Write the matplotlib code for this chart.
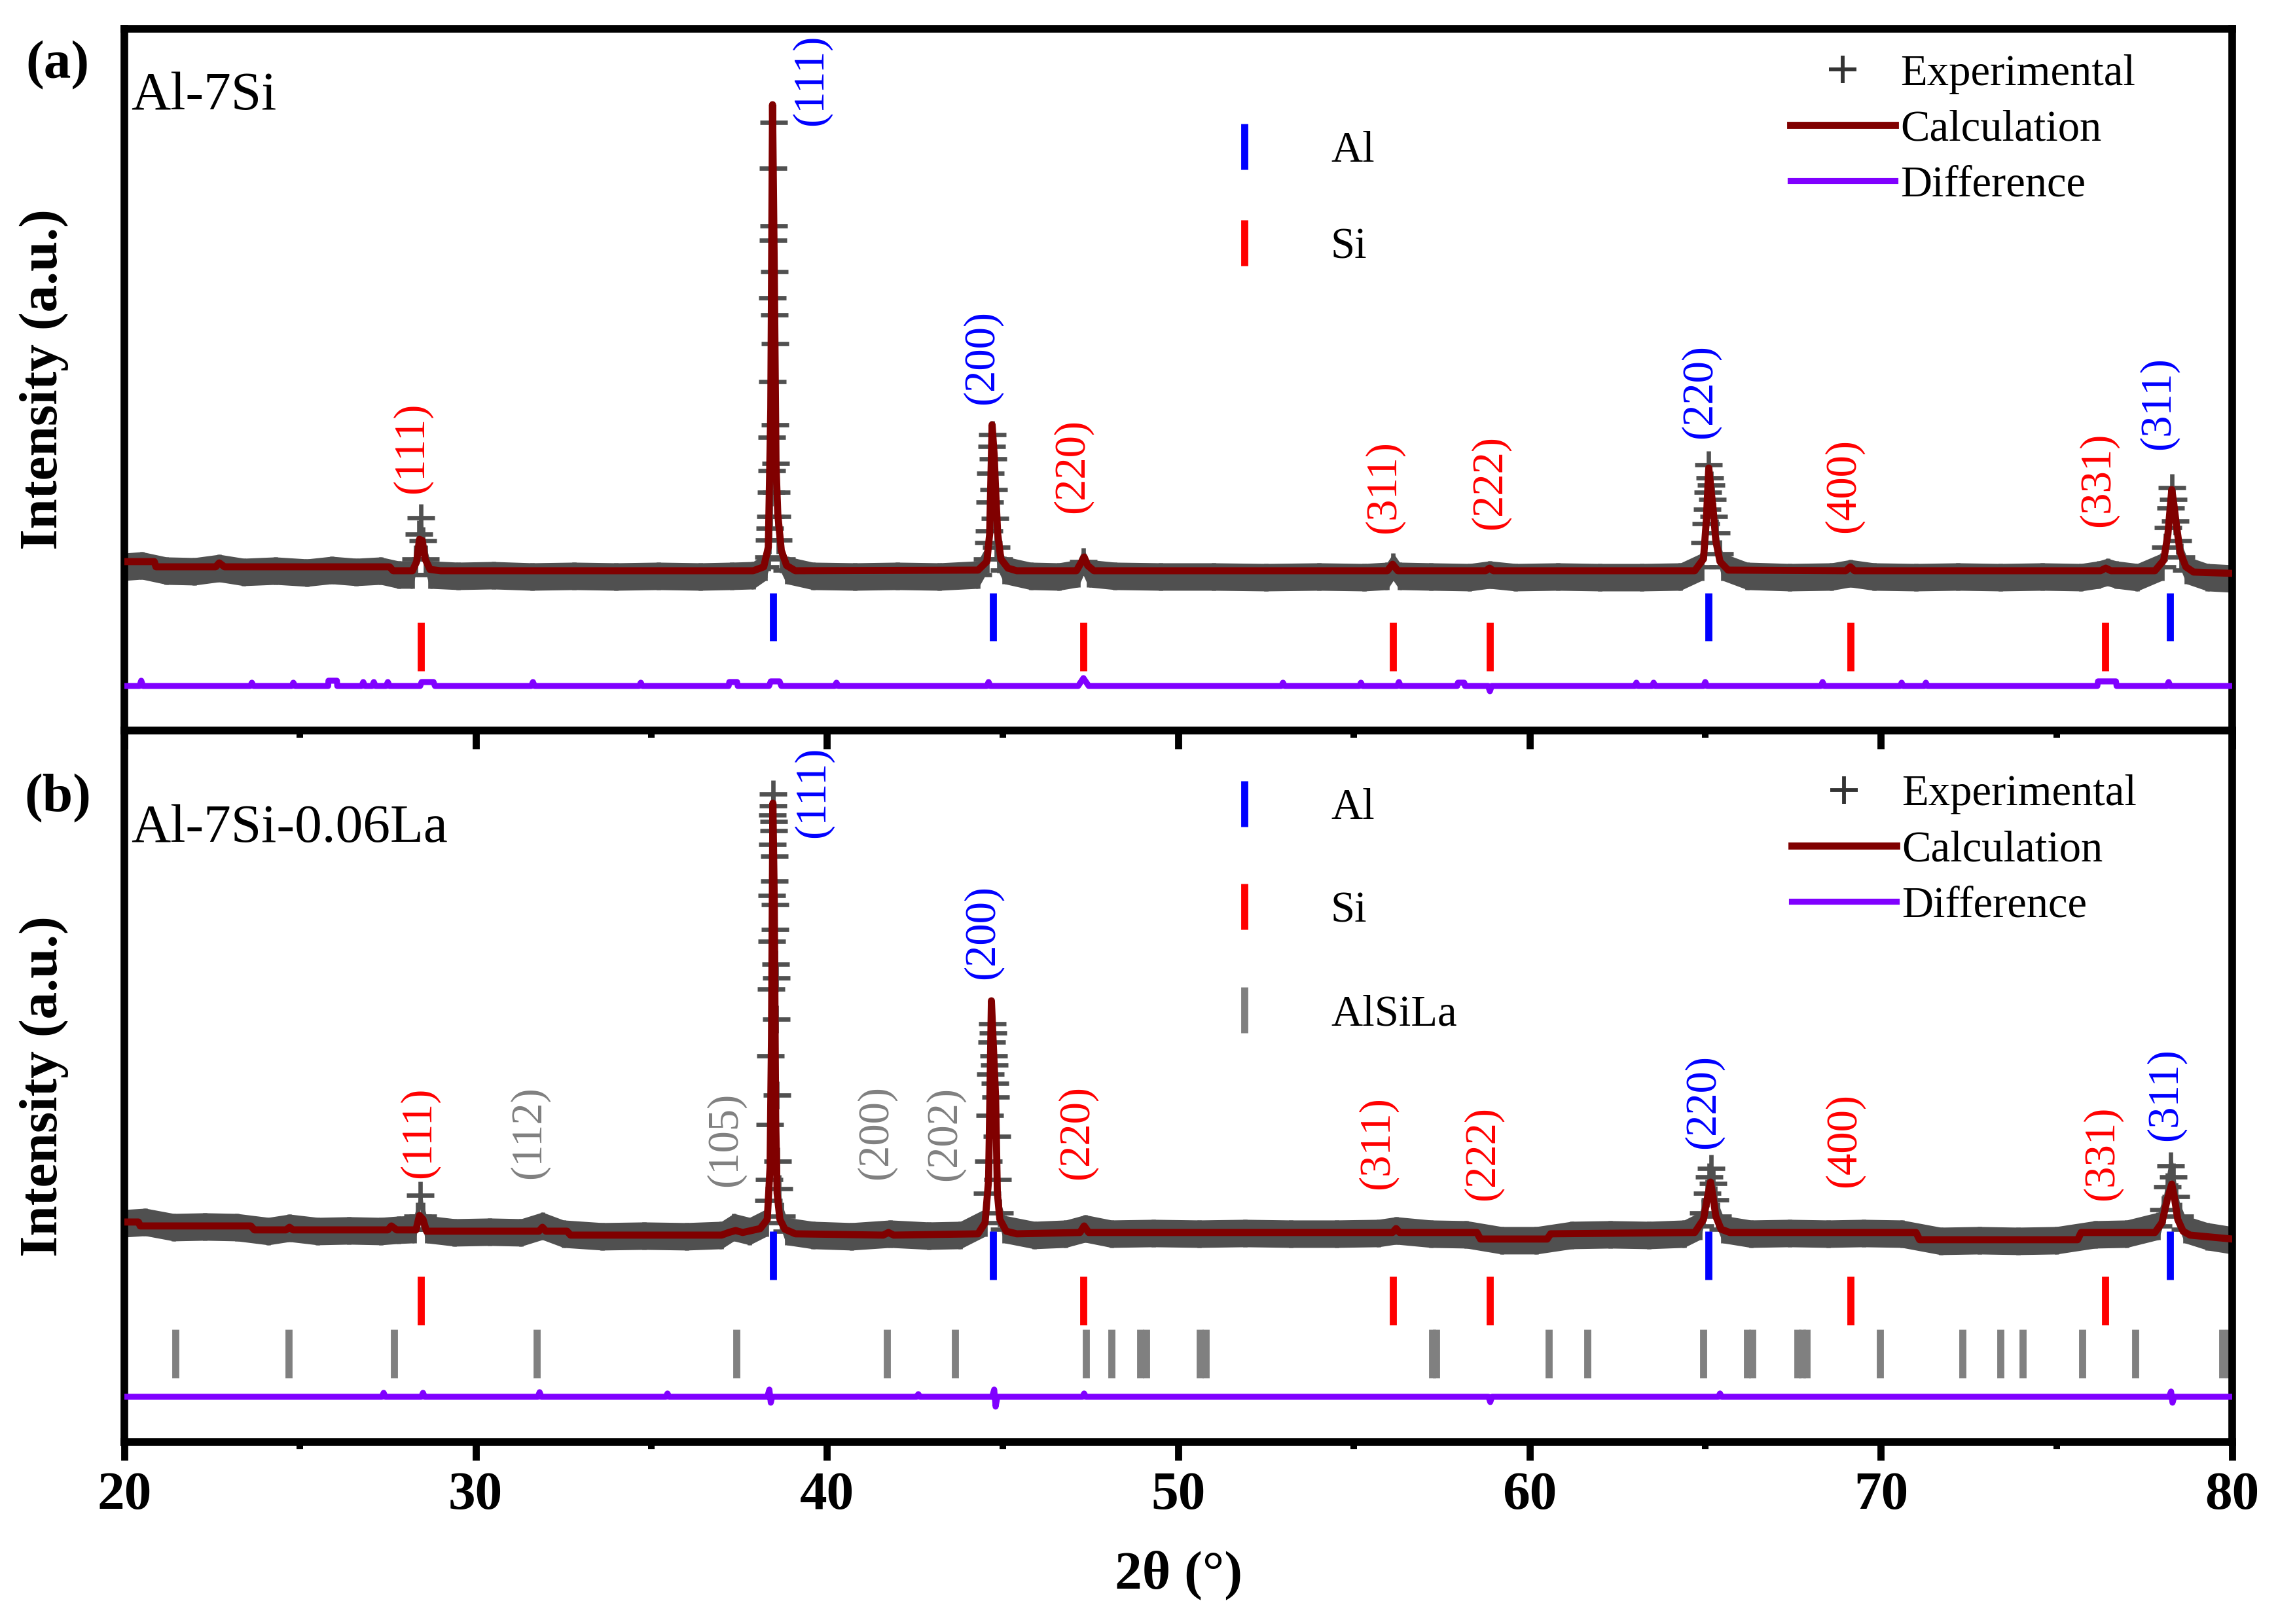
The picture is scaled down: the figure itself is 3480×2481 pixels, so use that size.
import numpy as np
import matplotlib.pyplot as plt
from matplotlib.lines import Line2D
from matplotlib.ticker import MultipleLocator

plt.rcParams['font.family'] = ['Liberation Serif', 'DejaVu Serif']

# reflection positions, 2theta (deg)
al_pos = [38.47, 44.72, 65.10, 78.23]
si_pos = [28.44, 47.30, 56.12, 58.86, 69.13, 76.38]
alsila_pos = [21.46, 24.67, 27.67, 31.73, 37.42, 41.70, 43.64, 47.38, 48.10,
              48.92, 49.08, 50.62, 50.78, 57.22, 57.34, 60.54, 61.64, 64.95,
              66.20, 66.34, 67.62, 67.76, 67.88, 69.97, 72.32, 73.41, 74.04,
              75.74, 77.25, 79.72, 79.90]

# ---- panel (a) Al-7Si, intensity in a.u. ----
calc_a_x = [20.0, 20.85, 20.9, 22.6, 22.7, 22.85, 27.55, 27.65, 28.2, 28.32, 28.4, 28.48,
            28.56, 28.7, 29.0, 37.9, 38.2, 38.33, 38.40, 38.45, 38.50, 38.55, 38.60,
            38.70, 38.85, 39.1, 44.3, 44.55, 44.63, 44.70, 44.76, 44.80, 44.86, 44.95,
            45.15, 45.4, 47.1, 47.25, 47.32, 47.42, 47.6, 55.95, 56.1, 56.25, 58.75,
            58.86, 58.97, 64.7, 64.95, 65.03, 65.10, 65.16, 65.22, 65.30, 65.42, 65.65,
            69.0, 69.13, 69.25, 76.25, 76.4, 76.55, 77.8, 78.05, 78.17, 78.28, 78.34,
            78.42, 78.52, 78.68, 78.9, 80.0]
calc_a_y = [258, 258, 250, 250, 256, 250, 250, 244, 244, 258, 292, 290,
            262, 246, 244, 244, 250, 280, 491, 956, 703, 404, 330,
            275, 252, 244, 245, 258, 300, 467, 420, 368, 300, 262,
            248, 244, 244, 258, 265, 252, 244, 244, 254, 244, 244,
            248, 244, 244, 262, 320, 401, 370, 340, 290, 258, 245,
            244, 250, 244, 244, 248, 244, 244, 260, 300, 368, 345,
            310, 272, 250, 242, 240]

exp_a_x = [20.0, 20.5, 21.2, 22.0, 22.7, 23.4, 24.3, 25.2, 25.9, 26.6, 27.3, 27.8, 28.2,
           28.3, 28.38, 28.44, 28.5, 28.58, 28.7, 29.5, 30.5, 31.6, 32.8, 34.0, 35.2,
           36.4, 37.3, 37.9, 38.25, 38.33, 38.36, 38.38, 38.40, 38.41, 38.42, 38.43,
           38.44, 38.45, 38.46, 38.47, 38.48, 38.49, 38.50, 38.51, 38.52, 38.53, 38.54,
           38.56, 38.58, 38.62, 38.70, 38.85, 39.6, 40.8, 42.0, 43.2, 44.3, 44.55,
           44.60, 44.62, 44.64, 44.66, 44.68, 44.70, 44.72, 44.75, 44.78, 44.82, 44.90,
           45.05, 45.8, 46.6, 47.15, 47.3, 47.45, 48.2, 49.5, 51.0, 52.5, 54.0, 55.3,
           55.95, 56.12, 56.3, 57.2, 58.3, 58.86, 59.6, 60.8, 62.0, 63.2, 64.3, 64.9,
           64.98, 65.02, 65.05, 65.08, 65.10, 65.13, 65.16, 65.20, 65.25, 65.32, 65.40,
           65.50, 66.2, 67.4, 68.6, 69.13, 69.8, 71.0, 72.2, 73.4, 74.6, 75.7, 76.2,
           76.45, 76.7, 77.3, 78.0, 78.10, 78.18, 78.24, 78.28, 78.32, 78.38, 78.45,
           78.55, 78.70, 79.3, 80.0]
exp_a_y = [250, 252, 244, 243, 248, 242, 244, 241, 245, 242, 244, 238, 238,
           262, 300, 325, 290, 262, 238, 236, 237, 235, 236, 235, 236,
           235, 236, 237, 250, 265, 291, 309, 327, 364, 397, 448,
           533, 661, 749, 859, 929, 771, 701, 635, 591, 467, 408,
           364, 327, 291, 262, 245, 236, 235, 236, 235, 238, 262,
           287, 305, 349, 393, 434, 452, 415, 368, 324, 280, 262,
           245, 236, 235, 240, 258, 240, 236, 235, 235, 234, 235, 234,
           236, 250, 236, 235, 234, 238, 234, 235, 234, 234, 235, 250,
           287, 316, 338, 364, 406, 386, 375, 353, 327, 302, 270,
           250, 236, 234, 235, 240, 235, 234, 235, 234, 235, 234, 238,
           242, 238, 234, 250, 280, 310, 340, 371, 353, 320, 290,
           265, 245, 234, 232]

diff_a_x = [20.0, 20.43, 20.48, 20.53, 23.58, 23.63, 23.68, 24.76, 24.81, 24.86, 25.8,
            25.81, 26.05, 26.06, 26.75, 26.8, 26.85, 27.05, 27.1, 27.15, 27.45, 27.5,
            27.55, 28.42, 28.46, 28.8, 28.84, 31.58, 31.63, 31.68, 34.65, 34.7, 34.75,
            37.2, 37.22, 37.44, 37.46, 38.35, 38.4, 38.65, 38.7, 40.22, 40.27, 40.32,
            44.55, 44.6, 44.65, 47.15, 47.3, 47.45, 52.93, 52.98, 53.03, 55.15, 55.2,
            55.25, 56.23, 56.28, 56.33, 57.94, 57.96, 58.14, 58.16, 58.82, 58.87,
            58.92, 63.0, 63.04, 63.08, 63.49, 63.53, 63.57, 64.95, 65.0, 65.05, 68.29,
            68.34, 68.39, 70.55, 70.59, 70.63, 71.24, 71.28, 71.32, 76.16, 76.18,
            76.69, 76.71, 78.14, 78.19, 78.24, 80.0]
diff_a_y = [68, 68, 76, 68, 68, 73, 68, 68, 73, 68, 68,
            76, 76, 68, 68, 74, 68, 68, 74, 68, 68, 74,
            68, 68, 74, 74, 68, 68, 74, 68, 68, 73, 68,
            68, 74, 74, 68, 68, 75, 75, 68, 68, 73, 68,
            68, 74, 68, 68, 80, 68, 68, 73, 68, 68, 73,
            68, 68, 74, 68, 68, 73, 73, 68, 68, 60,
            68, 68, 73, 68, 68, 73, 68, 68, 74, 68, 68,
            74, 68, 68, 73, 68, 68, 73, 68, 68, 75,
            75, 68, 68, 74, 68, 68]

# ---- panel (b) Al-7Si-0.06La ----
calc_b_x = [20.0, 20.4, 20.45, 23.6, 23.7, 24.6, 24.7, 24.8, 27.5, 27.6, 27.75, 28.3, 28.4,
            28.5, 28.6, 31.8, 31.9, 32.0, 32.6, 32.7, 37.0, 37.2, 37.4, 37.6, 38.1, 38.3,
            38.38, 38.42, 38.46, 38.50, 38.54, 38.58, 38.66, 38.8, 39.1, 41.6, 41.75,
            41.9, 44.3, 44.5, 44.6, 44.68, 44.74, 44.80, 44.85, 44.92, 45.1, 45.4, 47.2,
            47.32, 47.45, 56.1, 56.2, 56.3, 58.5, 58.6, 60.5, 60.6, 64.7, 64.95, 65.05,
            65.15, 65.22, 65.30, 65.45, 65.7, 71.0, 71.1, 75.6, 75.7, 77.8, 78.0, 78.15,
            78.28, 78.35, 78.45, 78.6, 78.8, 80.0]
calc_b_y = [336, 336, 330, 330, 324, 324, 328, 324, 324, 330, 324, 324, 346,
            340, 322, 322, 328, 322, 322, 316, 316, 320, 323, 320, 326, 340,
            420, 618, 976, 825, 492, 380, 340, 325, 318, 316, 320,
            316, 318, 335, 400, 674, 600, 527, 380, 340, 322, 318, 320,
            330, 320, 320, 326, 320, 320, 310, 310, 318, 320, 340, 370,
            397, 375, 345, 325, 320, 320, 309, 309, 320, 320, 335, 370,
            394, 375, 340, 322, 316, 310]

exp_b_x = [20.0, 20.6, 21.4, 22.3, 23.2, 24.1, 24.7, 25.5, 26.4, 27.3, 27.8, 28.25, 28.35,
           28.43, 28.5, 28.6, 29.4, 30.4, 31.3, 31.9, 32.5, 33.6, 34.8, 36.0, 37.0,
           37.35, 37.8, 38.28, 38.34, 38.36, 38.38, 38.40, 38.41, 38.42, 38.43, 38.44,
           38.45, 38.46, 38.47, 38.48, 38.49, 38.50, 38.51, 38.52, 38.53, 38.54, 38.55,
           38.56, 38.58, 38.60, 38.63, 38.70, 38.85, 39.6, 40.7, 41.8, 42.9, 43.8, 44.5,
           44.56, 44.60, 44.63, 44.66, 44.68, 44.70, 44.72, 44.74, 44.76, 44.78, 44.80,
           44.83, 44.86, 44.92, 45.05, 45.9, 46.8, 47.35, 48.1, 49.3, 50.6, 51.9, 53.2,
           54.5, 55.7, 56.2, 57.2, 58.2, 59.2, 60.2, 61.2, 62.3, 63.4, 64.4, 64.85,
           64.95, 65.05, 65.12, 65.17, 65.22, 65.28, 65.36, 65.50, 66.3, 67.4, 68.5,
           69.5, 70.6, 71.7, 72.8, 73.9, 75.0, 76.1, 77.0, 77.9, 78.05, 78.15, 78.25,
           78.32, 78.40, 78.50, 78.65, 79.3, 80.0]
exp_b_y = [334, 336, 328, 329, 328, 322, 327, 322, 323, 322, 324, 325, 345,
           377, 345, 325, 320, 321, 320, 330, 318, 314, 315, 314, 316,
           328, 322, 335, 369, 401, 485, 590, 692, 765, 835, 913,
           958, 990, 972, 948, 934, 895, 857, 821, 783, 730, 709,
           646, 530, 429, 387, 345, 322, 316, 314, 318, 315, 316, 335,
           380, 429, 499, 562, 611, 639, 625, 590, 576, 548, 527,
           467, 401, 350, 325, 316, 318, 326, 318, 319, 318, 319, 318,
           318, 319, 323, 318, 317, 308, 308, 316, 317, 316, 318, 330,
           350, 380, 405, 418, 395, 370, 345, 325, 318, 319, 318,
           319, 318, 307, 308, 307, 308, 317, 318, 330, 355, 390, 422,
           405, 375, 345, 325, 314, 308]

diff_b_x = [20.0, 27.33, 27.38, 27.43, 28.45, 28.5, 28.55, 31.77, 31.82, 31.87, 35.41,
            35.46, 35.51, 38.3, 38.36, 38.40, 38.44, 42.55, 42.6, 42.65, 44.7, 44.76,
            44.8, 44.85, 47.27, 47.32, 47.37, 58.83, 58.88, 58.93, 65.37, 65.42, 65.47,
            78.2, 78.26, 78.30, 78.35, 80.0]
diff_b_y = [69, 69, 75, 69, 69, 75, 69, 69, 76, 69, 69,
            74, 69, 69, 80, 60, 69, 69, 73, 69, 69, 80,
            54, 69, 69, 74, 69, 69, 61, 69, 69, 74, 69,
            69, 77, 60, 69, 69]

# hkl labels: position, text, phase, label height
lab_a_x = [28.18, 39.55, 44.41, 46.98, 55.85, 58.87, 64.85, 68.93, 76.18, 77.90]
lab_a_txt = ['(111)', '(111)', '(200)', '(220)', '(311)', '(222)', '(220)', '(400)', '(331)', '(311)']
lab_a_ph = ['Si', 'Al', 'Al', 'Si', 'Si', 'Si', 'Al', 'Si', 'Si', 'Al']
lab_a_y = [432, 994, 570, 404, 372, 379, 518, 374, 383, 500]

lab_b_x = [28.39, 31.52, 37.12, 39.60, 41.39, 43.35, 44.43, 47.11, 55.67, 58.67, 64.95,
           68.95, 76.29, 78.10]
lab_b_txt = ['(111)', '(112)', '(105)', '(111)', '(200)', '(202)', '(200)', '(220)', '(311)',
             '(222)', '(220)', '(400)', '(331)', '(311)']
lab_b_ph = ['Si', 'AlSiLa', 'AlSiLa', 'Al', 'AlSiLa', 'AlSiLa', 'Al', 'Si', 'Si', 'Si', 'Al',
            'Si', 'Si', 'Al']
lab_b_y = [473, 473, 462, 993, 473, 471, 779, 473, 457, 441, 520, 461, 441, 531]

ph_color = {'Al': '#0000FF', 'Si': '#FF0000', 'AlSiLa': '#808080'}
c_exp = '#505050'
c_calc = '#800000'
c_diff = '#8000FF'

fig = plt.figure(figsize=(11.6, 8.27), dpi=300)
ax_a = fig.add_axes([0.0546, 0.5502, 0.9253, 0.4321])
ax_b = fig.add_axes([0.0546, 0.1121, 0.9253, 0.4381])
ax_b.set_facecolor('none')


def draw_panel(ax, ex, ey, cx, cy, dx, dy, ticks, labels):
    ey = np.array(ey)
    ax.fill_between(ex, ey - 21, ey + 21, color=c_exp, lw=0, zorder=1)
    ax.plot(ex, ey, color=c_exp, lw=1.0, marker='+', ms=10, mew=1.6, zorder=1.5)
    h_calc, = ax.plot(cx, cy, color=c_calc, lw=2.6, zorder=3)
    h_diff, = ax.plot(dx, dy, color=c_diff, lw=2.2, zorder=3)
    for pos, lo, hi, ph in ticks:
        ax.vlines(pos, lo, hi, color=ph_color[ph], lw=2.6, zorder=2)
    for x, t, ph, y in zip(*labels):
        ax.text(x, y, t, rotation=90, ha='center', va='center', fontsize=16,
                color=ph_color[ph])
    h_exp = Line2D([], [], ls='none', marker='+', ms=10, mew=1.4, color='#333333')
    leg = ax.legend([h_exp, h_calc, h_diff], ['Experimental', 'Calculation', 'Difference'],
                    frameon=False, fontsize=16, handlelength=2.4, handletextpad=0.12,
                    labelspacing=0.36, borderpad=0, borderaxespad=0, loc='center left')
    return leg


def phase_legend(ax, phases, anchor, spacing):
    hs = [Line2D([], [], ls='none', marker='|', ms=17, mew=2.6, color=ph_color[p]) for p in phases]
    leg = ax.legend(hs, phases, frameon=False, fontsize=16, handlelength=1.0,
                    handletextpad=1.48, labelspacing=spacing, borderpad=0, borderaxespad=0,
                    loc='center left', bbox_to_anchor=anchor)
    return leg


leg_a = draw_panel(ax_a, exp_a_x, exp_a_y, calc_a_x, calc_a_y, diff_a_x, diff_a_y,
                   [(al_pos, 137, 210, 'Al'), (si_pos, 91, 165, 'Si')],
                   (lab_a_x, lab_a_txt, lab_a_ph, lab_a_y))
leg_a.set_bbox_to_anchor((0.7904, 0.856), transform=ax_a.transAxes)
ax_a.add_artist(leg_a)
phase_legend(ax_a, ['Al', 'Si'], (0.521, 0.757), 1.30)

leg_b = draw_panel(ax_b, exp_b_x, exp_b_y, calc_b_x, calc_b_y, diff_b_x, diff_b_y,
                   [(al_pos, 248, 322, 'Al'), (si_pos, 179, 253, 'Si'),
                    (alsila_pos, 98, 172, 'AlSiLa')],
                   (lab_b_x, lab_b_txt, lab_b_ph, lab_b_y))
leg_b.set_bbox_to_anchor((0.791, 0.832), transform=ax_b.transAxes)
ax_b.add_artist(leg_b)
phase_legend(ax_b, ['Al', 'Si', 'AlSiLa'], (0.521, 0.746), 1.45)

ax_a.set_ylim(0, 1072)
ax_b.set_ylim(0, 1087)

for ax in (ax_a, ax_b):
    ax.set_xlim(20, 80)
    ax.set_yticks([])
    ax.xaxis.set_major_locator(MultipleLocator(10))
    ax.xaxis.set_minor_locator(MultipleLocator(5))
    ax.tick_params(axis='x', which='major', direction='out', length=6.7, width=2.6,
                   labelsize=20, pad=4)
    ax.tick_params(axis='x', which='minor', direction='out', length=2.6, width=2.4)
    for s in ax.spines.values():
        s.set_linewidth(2.8)
    ax.set_ylabel('Intensity (a.u.)', fontsize=20, fontweight='bold', va='center')
    ax.yaxis.set_label_coords(-0.038, 0.5)

ax_a.tick_params(axis='x', labelbottom=False)
for lbl in ax_b.get_xticklabels():
    lbl.set_fontweight('bold')
ax_b.set_xlabel('2θ (°)', fontsize=20, fontweight='bold', labelpad=11)

ax_a.text(-0.0317, 0.948, '(a)', transform=ax_a.transAxes, ha='center', va='center',
          fontsize=20, fontweight='bold')
ax_b.text(-0.0317, 0.904, '(b)', transform=ax_b.transAxes, ha='center', va='center',
          fontsize=20, fontweight='bold')
ax_a.text(0.003, 0.904, 'Al-7Si', transform=ax_a.transAxes, ha='left', va='center', fontsize=20)
ax_b.text(0.003, 0.862, 'Al-7Si-0.06La', transform=ax_b.transAxes, ha='left', va='center',
          fontsize=20)

fig.savefig('out.png', dpi=300)
